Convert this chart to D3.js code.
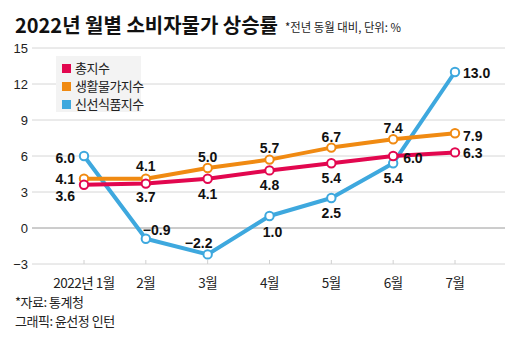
<!DOCTYPE html>
<html><head><meta charset="utf-8">
<script src="https://cdn.jsdelivr.net/npm/d3@7"></script>
<style>
body{margin:0;background:#fff;}
svg{display:block;}
text{font-family:"Liberation Sans","Noto Sans CJK KR",sans-serif;}
.kr{font-family:"Noto Sans CJK KR",sans-serif;}
</style></head><body>
<svg id="c" width="520" height="338"></svg>
<script>
const months = ["2022년 1월","2월","3월","4월","5월","6월","7월"];
const yTicks = [-3,0,3,6,9,12,15];
const seriesNames = ["총지수","생활물가지수","신선식품지수"];
const colors = ["#e2074f","#f08a12","#3ea8de"];
const total = [3.6,3.7,4.1,4.8,5.4,6.0,6.3];
const living = [4.1,4.1,5.0,5.7,6.7,7.4,7.9];
const fresh = [6.0,-0.9,-2.2,1.0,2.5,5.4,13.0];
// label placement per point: [anchor, dx, dy]
const totalPos = [["end",-9,16],["middle",0,18],["middle",0,20],["middle",0,20],["middle",0,20],["start",10,7],["start",8,6]];
const livingPos = [["end",-9,5],["middle",0,-8],["middle",0,-6],["middle",0,-7],["middle",0,-6],["middle",0,-6],["start",8,8]];
const freshPos = [["end",-9,7],["start",-3,-4],["middle",-9,-6],["middle",3,21],["middle",0,20],["middle",0,20],["start",8,6]];

const svg = d3.select("#c");
const x = d3.scalePoint().domain(months).range([84,455]);
const y = d3.scaleLinear().domain([-3,15]).range([264,48]);

// grid
svg.append("g").selectAll("line").data(yTicks).join("line")
  .attr("x1",32).attr("x2",505)
  .attr("y1",d=>y(d)).attr("y2",d=>y(d))
  .attr("stroke",d=>d===0?"#9a9a9a":"#d6d6d6").attr("stroke-width",1);
svg.append("g").selectAll("text").data(yTicks).join("text")
  .attr("x",28).attr("y",d=>y(d)+5).attr("text-anchor","end")
  .attr("font-size",13).attr("fill","#222")
  .text(d=>d<0?"\u2212"+Math.abs(d):d);

// x axis ticks
svg.append("g").selectAll("line").data(months).join("line")
  .attr("x1",d=>x(d)).attr("x2",d=>x(d)).attr("y1",264).attr("y2",260)
  .attr("stroke","#d0d0d0");
svg.append("g").selectAll("text").data(months).join("text")
  .attr("class","kr")
  .attr("x",d=>x(d)).attr("y",288).attr("text-anchor","middle")
  .attr("font-size",13.5).attr("fill","#222").attr("letter-spacing",-0.5)
  .text(d=>d);

// legend
svg.append("rect").attr("x",56).attr("y",56).attr("width",85).attr("height",56).attr("fill","#f3f3f3");
seriesNames.forEach((n,i)=>{
  svg.append("rect").attr("x",62).attr("y",64+i*18).attr("width",9).attr("height",9).attr("fill",colors[i]);
  svg.append("text").attr("class","kr").attr("x",75).attr("y",73+i*18)
    .attr("font-size",13).attr("fill","#222").attr("letter-spacing",-0.5).text(n);
});

const line = d3.line().x((d,i)=>x(months[i])).y(d=>y(d));
const all = [[total,totalPos],[living,livingPos],[fresh,freshPos]];
[2,1,0].forEach(k=>{
  const data = all[k][0];
  svg.append("path").datum(data).attr("d",line).attr("fill","none")
    .attr("stroke",colors[k]).attr("stroke-width",4).attr("stroke-linejoin","round");
});
[2,1,0].forEach(k=>{
  const data = all[k][0];
  svg.append("g").selectAll("circle").data(data).join("circle")
    .attr("cx",(d,i)=>x(months[i])).attr("cy",d=>y(d)).attr("r",4.2)
    .attr("fill","#fff").attr("stroke",colors[k]).attr("stroke-width",2);
});
[0,1,2].forEach(k=>{
  const data = all[k][0], pos = all[k][1];
  svg.append("g").selectAll("text").data(data).join("text")
    .attr("x",(d,i)=>x(months[i])+pos[i][1]).attr("y",(d,i)=>y(d)+pos[i][2])
    .attr("text-anchor",(d,i)=>pos[i][0])
    .attr("font-size",14).attr("font-weight","bold").attr("fill","#111")
    .text(d=>(d<0?"\u2212":"")+Math.abs(d).toFixed(1));
});

// title
svg.append("text").attr("class","kr").attr("x",15).attr("y",33)
  .attr("font-size",20).attr("font-weight","bold").attr("fill","#111")
  .attr("textLength",263).attr("lengthAdjust","spacingAndGlyphs")
  .text("2022년 월별 소비자물가 상승률");
svg.append("text").attr("class","kr").attr("x",285).attr("y",32)
  .attr("font-size",12).attr("fill","#222")
  .attr("textLength",116).attr("lengthAdjust","spacingAndGlyphs")
  .text("*전년 동월 대비, 단위: %");
svg.append("text").attr("class","kr").attr("x",15).attr("y",307)
  .attr("font-size",13).attr("fill","#222").attr("letter-spacing",-0.5).text("*자료: 통계청");
svg.append("text").attr("class","kr").attr("x",15).attr("y",326)
  .attr("font-size",13).attr("fill","#222").attr("letter-spacing",-0.5).text("그래픽: 윤선정 인턴");
</script></body></html>
